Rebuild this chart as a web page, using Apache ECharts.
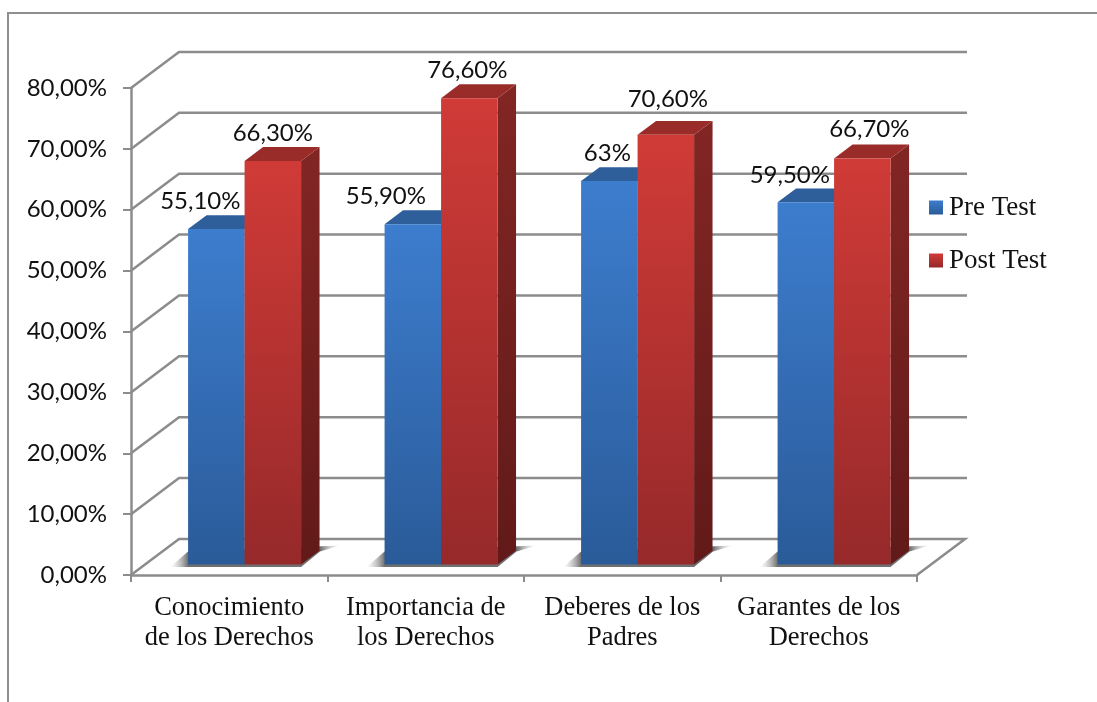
<!DOCTYPE html>
<html>
<head>
<meta charset="utf-8">
<style>html,body{margin:0;padding:0;background:#fff}#c{width:1097px;height:702px}</style>
<script src="https://cdn.jsdelivr.net/npm/echarts@6/dist/echarts.min.js"></script>
</head>
<body>
<div id="c"></div>
<script>
const categories = ['Conocimiento\nde los Derechos', 'Importancia de\nlos Derechos', 'Deberes de los\nPadres', 'Garantes de los\nDerechos'];
const preTest = [55.1, 55.9, 63, 59.5];
const postTest = [66.3, 76.6, 70.6, 66.7];
const preLabels = ['55,10%', '55,90%', '63%', '59,50%'];
const postLabels = ['66,30%', '76,60%', '70,60%', '66,70%'];
const yTicks = [0, 10, 20, 30, 40, 50, 60, 70, 80];

const preNudge = [-16, -27, -2, -16];
const postNudge = [0, -2, 2, 7];
const postLift = [0, 0, 8, 2];

const LINE = '#8c8c8c';
const SANS = 'Lato, Carlito, sans-serif';
const SERIF = '"Liberation Serif", "Times New Roman", serif';
const grad = (a, b) => new echarts.graphic.LinearGradient(0, 0, 0, 1, [{offset: 0, color: a}, {offset: 1, color: b}]);

const palette = {
  pre: {front: ['#3d7dce', '#2a5b99'], top: '#2e5f9b', side: ['#2a5a94', '#1f4370']},
  post: {front: ['#d03b37', '#96292a'], top: '#992b29', side: ['#822624', '#611a19']}
};

function geom(api, i, v) {
  const c = api.coord([i, v]);
  const zero = api.coord([i, 0]);
  const band = api.size([1, 0])[0];
  const w = band * 0.2875;
  const dx = band * 0.094;
  return {cx: c[0], y: c[1], y0: zero[1], w, dx, dy: dx * 0.75, liftX: band * 0.078, liftY: band * 0.0534};
}

function walls(params, api) {
  const v = api.value(0);
  const c = api.coord([0, v]);
  const band = api.size([1, 0])[0];
  const left = c[0] - band / 2;
  const right = left + band * categories.length;
  const dx = band * 0.2443, dy = dx * 0.75;
  const points = [[left, c[1]], [left + dx, c[1] - dy], [right + dx + (v === 0 ? 0 : 2), c[1] - dy]];
  if (v === 0) points.push([right, c[1]]);
  return {type: 'polyline', shape: {points}, style: {stroke: LINE, lineWidth: 2.5, fill: null}};
}

function shadow(params, api) {
  const i = api.value(0);
  const g = geom(api, i, 0);
  const l = g.cx - g.w + g.liftX, r = g.cx + g.w + g.liftX, b = g.y0 - g.liftY;
  return {type: 'polygon', shape: {points: [
    [l - 18, b + 2.5], [l, b - 13], [r + 39, b - 19], [r + 19, b - 13], [r, b + 2.5]
  ]}, style: {fill: new echarts.graphic.LinearGradient(0, 0, 1, 0, [
    {offset: 0, color: 'rgba(190,190,190,0)'}, {offset: 0.105, color: 'rgba(105,105,105,0.95)'},
    {offset: 0.885, color: 'rgba(105,105,105,0.95)'}, {offset: 1, color: 'rgba(225,225,225,0.1)'}
  ])}};
}

function bar(kind, labels, xShift, nudge, lift) {
  const p = palette[kind];
  return function (params, api) {
    const i = api.value(0), v = api.value(1);
    const g = geom(api, i, v);
    const l = g.cx + (xShift < 0 ? -g.w : 0) + g.liftX;
    const r = l + g.w;
    const t = g.y - g.liftY, b = g.y0 - g.liftY;
    return {type: 'group', children: [
      {type: 'polygon', shape: {points: [[r, t], [r + g.dx, t - g.dy], [r + g.dx, b - g.dy], [r, b]]},
        style: {fill: grad(p.side[0], p.side[1])}},
      {type: 'polygon', shape: {points: [[l, t], [l + g.dx, t - g.dy], [r + g.dx, t - g.dy], [r, t]]},
        style: {fill: p.top}},
      {type: 'rect', shape: {x: l, y: t, width: g.w, height: b - t},
        style: {fill: grad(p.front[0], p.front[1])}},
      {type: 'text', z2: 50, style: {text: labels[i], x: (l + r) / 2 + nudge[i], y: t - 27.5 - lift[i],
        align: 'center', verticalAlign: 'middle', fontFamily: SANS, fontSize: 24, fill: '#111'}}
    ]};
  };
}

const indexed = arr => arr.map((v, i) => [i, v]);
const chart = echarts.init(document.getElementById('c'), null, {renderer: 'canvas'});
chart.setOption({
  animation: false,
  backgroundColor: '#fff',
  graphic: [{type: 'polyline', shape: {points: [[8, 702], [8, 13], [1097, 13]]}, style: {stroke: '#8f8f8f', lineWidth: 2, fill: null}, silent: true}],
  grid: {left: 131, top: 88, width: 786, height: 487},
  legend: {
    orient: 'vertical', left: 924, top: 189, itemWidth: 14, itemHeight: 14, itemGap: 26,
    icon: 'rect', selectedMode: false,
    textStyle: {fontFamily: SERIF, fontSize: 27, color: '#111', padding: [0, 0, 0, 1]},
    data: [
      {name: 'Pre Test', itemStyle: {color: grad(palette.pre.front[0], palette.pre.front[1])}},
      {name: 'Post Test', itemStyle: {color: grad(palette.post.front[0], palette.post.front[1])}}
    ]
  },
  xAxis: {
    type: 'category', data: categories,
    axisLine: {show: true, lineStyle: {color: LINE, width: 2.5}},
    axisTick: {show: true, length: 7, lineStyle: {color: LINE, width: 2}},
    axisLabel: {fontFamily: SERIF, fontSize: 26.5, color: '#111', lineHeight: 29.5, margin: 18.5, interval: 0}
  },
  yAxis: {
    type: 'value', min: 0, max: 80, interval: 10,
    splitLine: {show: false},
    axisLine: {show: true, lineStyle: {color: LINE, width: 2.5}},
    axisTick: {show: true, length: 8, lineStyle: {color: LINE, width: 2}},
    axisLabel: {fontFamily: SANS, fontSize: 24, color: '#111', margin: 24,
      formatter: v => v.toFixed(2).replace('.', ',') + '%'}
  },
  series: [
    {type: 'custom', name: 'walls', silent: true, clip: false, z: 1, data: yTicks.map(v => [v]), encode: {y: 0}, renderItem: walls},
    {type: 'custom', name: 'floor shadow', silent: true, clip: false, z: 2, data: indexed(preTest), encode: {x: 0, y: 1}, renderItem: shadow},
    {type: 'custom', name: 'Pre Test', clip: false, z: 3, data: indexed(preTest), encode: {x: 0, y: 1},
      itemStyle: {color: palette.pre.front[0]}, renderItem: bar('pre', preLabels, -1, preNudge, [0, 0, 0, 0])},
    {type: 'custom', name: 'Post Test', clip: false, z: 4, data: indexed(postTest), encode: {x: 0, y: 1},
      itemStyle: {color: palette.post.front[0]}, renderItem: bar('post', postLabels, 1, postNudge, postLift)}
  ]
});
</script>
</body>
</html>
